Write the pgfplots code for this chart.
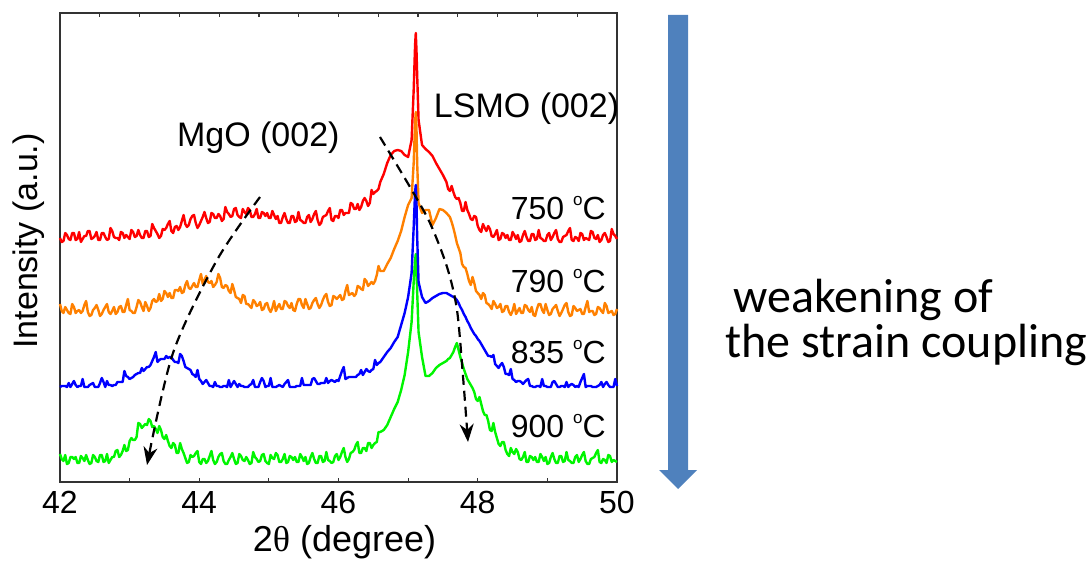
\documentclass[border=0pt]{standalone}
\usepackage{pgfplots}
\pgfplotsset{compat=1.18}
\usepackage{pgfplotstable}
\usepackage{fontspec}
\setmainfont{Liberation Sans}
\newfontfamily\calibri{Carlito}
\newfontfamily\serifgreek{Liberation Serif}
\usetikzlibrary{arrows.meta}
\definecolor{cred}{RGB}{255,0,0}
\definecolor{corange}{RGB}{255,128,0}
\definecolor{cblue}{RGB}{0,0,255}
\definecolor{cgreen}{RGB}{0,245,0}
\definecolor{arrowblue}{RGB}{79,129,189}
\newcommand{\degC}{\raisebox{7pt}{\fontsize{8.5}{9}\selectfont o}C}

\pgfplotstableread{
x r o b g
42.000 244 178 95 28
42.025 240 171 96 23
42.050 241 169 96 21
42.075 249 175 96 27
42.100 247 172 95 18
42.125 243 169 99 19
42.150 242 168 95 25
42.175 249 178 98 25
42.200 249 175 101 23
42.225 242 169 97 25
42.250 243 171 95 19
42.275 250 172 96 19
42.300 240 169 96 26
42.325 243 171 103 24
42.350 246 177 95 21
42.375 246 181 95 27
42.400 251 170 95 22
42.425 251 166 97 18
42.450 243 167 98 19
42.475 244 172 99 27
42.500 246 174 95 25
42.525 250 177 95 21
42.550 242 172 95 20
42.575 242 166 99 27
42.600 249 168 104 27
42.625 249 172 100 20
42.650 245 175 95 21
42.675 242 178 101 28
42.700 243 170 97 19
42.725 254 168 97 22
42.750 251 171 96 25
42.775 245 175 97 25
42.800 244 168 97 31
42.825 244 170 100 32
42.850 242 175 100 25
42.875 250 176 100 27
42.900 249 170 100 31
42.925 244 170 111 37
42.950 247 177 106 31
42.975 245 183 105 32
43.000 243 172 103 41
43.025 252 171 104 44
43.050 250 169 105 42
43.075 245 169 107 42
43.100 246 175 108 45
43.125 252 182 109 59
43.150 247 180 109 58
43.175 244 175 114 54
43.200 244 171 111 56
43.225 251 180 113 58
43.250 251 176 115 57
43.275 245 171 115 63
43.300 246 174 117 61
43.325 258 181 121 55
43.350 254 183 125 56
43.375 251 180 130 53
43.400 248 181 120 49
43.425 244 188 122 56
43.450 246 181 123 52
43.475 253 183 123 45
43.500 252 191 123 43
43.525 254 189 126 47
43.550 258 185 124 41
43.575 261 189 125 36
43.600 251 184 125 34
43.625 249 184 122 39
43.650 255 192 120 37
43.675 256 192 120 29
43.700 252 191 119 29
43.725 255 195 128 39
43.750 261 189 126 33
43.775 267 190 121 29
43.800 258 197 115 24
43.825 255 201 114 19
43.850 257 194 113 20
43.875 263 193 112 27
43.900 266 196 108 25
43.925 267 199 107 26
43.950 259 195 105 29
43.975 254 195 112 31
44.000 257 202 103 20
44.025 261 208 101 18
44.050 265 198 98 23
44.075 270 202 100 23
44.100 264 206 102 19
44.125 259 200 99 21
44.150 260 199 96 26
44.175 269 201 96 31
44.200 268 195 95 22
44.225 264 197 100 18
44.250 264 200 96 20
44.275 268 208 96 25
44.300 266 204 95 28
44.325 261 195 95 29
44.350 263 194 96 21
44.375 275 197 96 18
44.400 270 196 95 18
44.425 268 191 102 22
44.450 265 189 95 25
44.475 266 198 98 29
44.500 273 192 101 23
44.525 274 185 98 18
44.550 267 184 95 19
44.575 265 183 98 28
44.600 264 179 96 26
44.625 273 187 96 22
44.650 270 186 95 21
44.675 268 178 95 25
44.700 274 178 95 22
44.725 272 176 97 18
44.750 265 174 98 19
44.775 265 182 102 30
44.800 268 180 95 25
44.825 273 176 95 23
44.850 264 177 95 20
44.875 264 180 100 21
44.900 270 172 104 27
44.925 269 173 101 28
44.950 266 178 95 21
44.975 269 179 96 19
45.000 264 173 96 18
45.025 264 170 104 27
45.050 271 174 95 24
45.075 267 181 95 23
45.100 263 171 95 29
45.125 266 175 96 27
45.150 259 178 97 20
45.175 259 173 96 20
45.200 265 173 95 23
45.225 269 181 98 28
45.250 263 180 100 19
45.275 259 176 102 20
45.300 259 174 95 26
45.325 266 179 95 25
45.350 266 172 95 22
45.375 260 171 95 25
45.400 261 178 96 20
45.425 270 183 96 20
45.450 262 183 96 28
45.475 261 177 104 25
45.500 259 174 97 21
45.525 259 183 97 25
45.550 265 178 97 18
45.575 267 173 97 19
45.600 260 174 97 25
45.625 263 179 103 29
45.650 268 182 104 23
45.675 271 184 101 19
45.700 262 178 98 19
45.725 257 174 98 26
45.750 259 177 99 26
45.775 265 182 99 20
45.800 266 186 99 21
45.825 267 188 104 30
45.850 271 180 99 22
45.875 274 176 101 21
45.900 262 177 102 19
45.925 261 186 101 20
45.950 266 185 100 26
45.975 266 183 102 28
46.000 264 185 101 22
46.025 272 187 106 25
46.050 272 182 111 30
46.075 267 183 115 34
46.100 269 191 103 25
46.125 269 197 104 20
46.150 269 187 105 23
46.175 279 188 105 29
46.200 278 189 105 30
46.225 273 186 105 32
46.250 273 188 105 37
46.275 278 196 107 40
46.300 272 195 108 29
46.325 275 193 112 29
46.350 281 192 107 34
46.375 284 203 110 34
46.400 281 201 113 31
46.425 276 196 111 39
46.450 279 198 110 39
46.475 292 200 112 34
46.500 288 198 113 37
46.525 290 201 122 39
46.550 291 207 117 40
46.575 293 216 119 50
46.600 300 211 120 50
46.650 308 211 125 52
46.700 319 218 130 57
46.750 327 224 134 65
46.800 331 233 140 73
46.850 332 241 145 80
46.900 331 251 157 92
46.950 327 265 169 107
47.000 325 277 185 130
47.050 342 284 209 160
47.080 392 319 255 200
47.100 437 359 290 222
47.110 449 370 297 228
47.120 432 354 280 215
47.130 407 319 245 190
47.150 362 279 200 150
47.200 337 269 185 125
47.250 333 272 179 106
47.300 330 272 181 106
47.350 326 257 184 109
47.400 319 264 186 114
47.450 313 273 188 117
47.500 307 272 189 119
47.550 300 269 189 121
47.575 293 267 188 123
47.600 291 265 187 124
47.625 296 260 186 127
47.650 290 254 185 130
47.675 285 247 184 135
47.700 283 239 182 139
47.725 284 234 179 132
47.750 279 229 175 125
47.775 271 218 172 119
47.800 271 215 168 113
47.825 280 214 165 108
47.850 272 208 161 103
47.875 268 201 158 100
47.900 263 197 154 97
47.925 262 205 151 94
47.950 266 199 148 90
47.975 265 191 146 83
48.000 256 189 143 81
48.025 252 187 141 85
48.050 250 183 138 78
48.075 258 189 135 71
48.100 254 187 132 67
48.125 251 179 129 67
48.150 256 178 126 61
48.175 253 176 126 52
48.200 246 173 125 51
48.225 245 181 127 59
48.250 248 178 118 50
48.275 252 174 116 44
48.300 242 175 114 38
48.325 243 178 117 36
48.350 249 170 119 40
48.375 248 171 115 40
48.400 244 176 108 32
48.425 247 176 108 28
48.450 242 170 107 26
48.475 242 167 113 34
48.500 250 171 103 30
48.525 247 178 102 28
48.550 243 168 100 33
48.575 247 171 101 30
48.600 240 174 101 23
48.625 241 169 100 22
48.650 247 169 98 25
48.675 251 177 100 30
48.700 245 176 102 20
48.725 241 172 103 20
48.750 241 170 96 26
48.775 248 175 96 25
48.800 248 167 95 22
48.825 242 166 95 25
48.850 243 173 96 20
48.875 252 178 96 20
48.900 244 178 95 28
48.925 243 172 103 25
48.950 241 169 96 21
48.975 241 178 96 25
49.000 247 172 95 18
49.025 249 167 95 19
49.050 242 168 95 25
49.075 245 173 100 29
49.100 249 175 101 23
49.125 252 177 98 19
49.150 243 171 95 19
49.175 240 166 95 26
49.200 240 169 96 26
49.225 245 173 96 20
49.250 246 177 95 21
49.275 247 179 100 30
49.300 251 170 95 22
49.325 254 166 97 21
49.350 242 167 98 19
49.375 241 176 97 19
49.400 245 174 95 25
49.425 244 171 96 27
49.450 241 172 95 20
49.475 249 173 100 23
49.500 248 168 104 27
49.525 242 168 108 30
49.550 244 175 95 21
49.575 243 181 96 18
49.600 242 170 96 18
49.625 251 171 96 23
49.650 250 171 95 24
49.675 244 167 95 25
49.700 243 168 95 29
49.725 247 175 96 32
49.750 240 174 97 20
49.775 242 171 100 19
49.800 247 169 95 23
49.825 249 179 98 22
49.850 245 176 100 19
49.875 240 169 97 27
49.900 241 170 95 26
49.925 253 171 95 20
49.950 248 167 95 22
49.975 246 168 103 21
50.000 243 173 96 20
}\xrd

\begin{document}
\begin{tikzpicture}
\useasboundingbox (0,0) rectangle (545pt,281.5pt);
% top-axis ticks (14 intervals)
\begin{axis}[
  at={(30pt,40.5pt)}, anchor=south west,
  scale only axis, width=278.5pt, height=234.5pt,
  xmin=0, xmax=14, ymin=0, ymax=1,
  axis x line*=top, hide y axis,
  axis line style={-, black!80, line width=0.75pt},
  xtick={1,2,...,13}, xticklabels={},
  tick align=inside, major tick length=2pt,
  every tick/.style={black!80, line width=0.6pt},
]
\end{axis}
\begin{axis}[
  at={(30pt,40.5pt)}, anchor=south west,
  scale only axis, width=278.5pt, height=234.5pt,
  xmin=42, xmax=50, ymin=0, ymax=469,
  xtick={42,44,46,48,50}, minor xtick={43,45,47,49},
  xtick pos=left, tick align=inside,
  major tick length=2.2pt, minor tick length=2.2pt,
  ytick=\empty,
  every tick/.style={black!80, line width=0.6pt},
  axis line style={black!80, line width=0.75pt},
  tick label style={font=\fontsize{16}{19}\selectfont},
  /pgf/number format/assume math mode=true,
  xticklabel style={yshift=-1pt},
  xlabel={2{\serifgreek θ} (degree)},
  xlabel style={font=\fontsize{18}{21}\selectfont, at={(axis description cs:0.5,-0.149)}, anchor=base, xshift=3pt},
  ylabel={Intensity (a.u.)},
  ylabel style={font=\fontsize{17}{20}\selectfont, at={(axis description cs:-0.0395,0.514)}, anchor=base},
  clip=false,
]
\addplot[cred, line width=1.2pt, line join=round] table[x=x,y=r]{\xrd};
\addplot[corange, line width=1.2pt, line join=round] table[x=x,y=o]{\xrd};
\addplot[cgreen, line width=1.2pt, line join=round] table[x=x,y=g]{\xrd};
\addplot[cblue, line width=1.2pt, line join=round] table[x=x,y=b]{\xrd};

\addplot[black, line width=1.1pt, dash pattern=on 5pt off 3pt, smooth, -{Stealth[length=9pt,width=7pt]}]
  coordinates {(44.873,285) (44.255,222) (43.623,129) (43.25,17)};
\addplot[black, line width=1.1pt, dash pattern=on 5pt off 3pt, smooth, -{Stealth[length=9pt,width=7pt]}]
  coordinates {(46.596,345) (47.027,295) (47.314,259) (47.559,215) (47.702,172) (47.789,105) (47.86,40)};

\node[anchor=base west, font=\fontsize{17}{20}\selectfont] at (axis cs:43.58,335) {MgO (002)};
\node[anchor=base west, font=\fontsize{17}{20}\selectfont] at (axis cs:47.27,364) {LSMO (002)};
\node[anchor=base east, font=\fontsize{16}{19}\selectfont] at (axis cs:49.94,262) {750 \degC};
\node[anchor=base east, font=\fontsize{16}{19}\selectfont] at (axis cs:49.94,189) {790 \degC};
\node[anchor=base east, font=\fontsize{16}{19}\selectfont] at (axis cs:49.94,119) {835 \degC};
\node[anchor=base east, font=\fontsize{16}{19}\selectfont] at (axis cs:49.94,45) {900 \degC};
\end{axis}

\fill[arrowblue] (334pt,274pt) -- (344pt,274pt) -- (344pt,46.5pt) -- (348.5pt,46.5pt)
  -- (339pt,37pt) -- (329.5pt,46.5pt) -- (334pt,46.5pt) -- cycle;
\node[anchor=base west, font=\calibri\fontsize{24}{28}\selectfont, inner sep=0pt] at (366.5pt,125.5pt) {weakening of};
\node[anchor=base west, font=\calibri\fontsize{24}{28}\selectfont, inner sep=0pt] at (362.5pt,103pt) {the strain coupling};
\end{tikzpicture}
\end{document}
